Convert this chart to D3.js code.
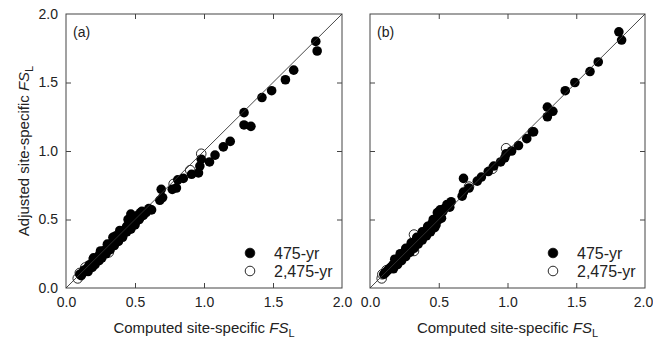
<!DOCTYPE html>
<html>
<head>
<meta charset="utf-8">
<script src="https://cdn.jsdelivr.net/npm/d3@7"></script>
<style>
  body { margin: 0; background: #fff; }
  svg { display: block; font-family: "Liberation Sans", Arial, sans-serif; }
  .axis path { display: none; }
  .axis line { stroke: #444; }
  .axis text { font-size: 14px; fill: #222; }
</style>
</head>
<body>
<div id="chart"></div>
<script>
const ticks = [0, 0.5, 1.0, 1.5, 2.0];
const panelLabels = ['(a)', '(b)'];
const seriesNames = ['475-yr', '2,475-yr'];

// panel (a): [computed, adjusted]
const aFilled = [
  [0.10, 0.10], [0.11, 0.09], [0.12, 0.11], [0.13, 0.13], [0.14, 0.12], [0.15, 0.14],
  [0.16, 0.15], [0.17, 0.17], [0.18, 0.16], [0.19, 0.18], [0.20, 0.19], [0.21, 0.21],
  [0.22, 0.20], [0.23, 0.22], [0.24, 0.24], [0.25, 0.23], [0.26, 0.25], [0.27, 0.27],
  [0.28, 0.26], [0.29, 0.28], [0.30, 0.30], [0.31, 0.29], [0.32, 0.31], [0.33, 0.32],
  [0.34, 0.34], [0.35, 0.33], [0.36, 0.38], [0.37, 0.36], [0.38, 0.37], [0.40, 0.39],
  [0.41, 0.41], [0.42, 0.40], [0.43, 0.43], [0.44, 0.45], [0.45, 0.44], [0.46, 0.47],
  [0.47, 0.46], [0.48, 0.48], [0.49, 0.52], [0.50, 0.50], [0.51, 0.49], [0.52, 0.53],
  [0.16, 0.12], [0.19, 0.15], [0.21, 0.17], [0.24, 0.20], [0.26, 0.22], [0.29, 0.25],
  [0.32, 0.28], [0.35, 0.31], [0.38, 0.34], [0.41, 0.37], [0.44, 0.41], [0.47, 0.43],
  [0.20, 0.22], [0.25, 0.27], [0.30, 0.32], [0.34, 0.37], [0.39, 0.42], [0.45, 0.50],
  [0.50, 0.46], [0.53, 0.50], [0.47, 0.54], [0.55, 0.56], [0.58, 0.55],
  [0.54, 0.52], [0.56, 0.53], [0.54, 0.55], [0.60, 0.58], [0.62, 0.57],
  [0.68, 0.64], [0.70, 0.66], [0.69, 0.72], [0.77, 0.72], [0.80, 0.73], [0.81, 0.79],
  [0.85, 0.80], [0.91, 0.83], [0.96, 0.84], [0.97, 0.89], [0.98, 0.94], [1.04, 0.92],
  [1.08, 0.97], [1.14, 1.03], [1.19, 1.07], [1.29, 1.28], [1.29, 1.19], [1.34, 1.18],
  [1.42, 1.39], [1.49, 1.44], [1.59, 1.52], [1.65, 1.59], [1.81, 1.80], [1.82, 1.73]
];
const aOpen = [
  [0.085, 0.07], [0.10, 0.11], [0.14, 0.15], [0.20, 0.21], [0.31, 0.26],
  [0.38, 0.39], [0.78, 0.76], [0.90, 0.86], [0.98, 0.98]
];

// panel (b): [computed, adjusted]
const bFilled = [
  [0.10, 0.10], [0.11, 0.11], [0.12, 0.12], [0.13, 0.13], [0.14, 0.14], [0.15, 0.15],
  [0.16, 0.16], [0.17, 0.17], [0.18, 0.18], [0.19, 0.19], [0.20, 0.20], [0.21, 0.21],
  [0.22, 0.22], [0.23, 0.23], [0.24, 0.24], [0.25, 0.26], [0.26, 0.25], [0.27, 0.28],
  [0.28, 0.27], [0.29, 0.30], [0.30, 0.29], [0.31, 0.32], [0.32, 0.31], [0.33, 0.34],
  [0.34, 0.33], [0.35, 0.36], [0.36, 0.35], [0.37, 0.38], [0.38, 0.37], [0.39, 0.40],
  [0.40, 0.39], [0.41, 0.42], [0.42, 0.41], [0.43, 0.44], [0.44, 0.43], [0.45, 0.47],
  [0.46, 0.45], [0.47, 0.48], [0.48, 0.46], [0.49, 0.55], [0.51, 0.57], [0.50, 0.50],
  [0.17, 0.14], [0.20, 0.17], [0.23, 0.20], [0.26, 0.23], [0.29, 0.26], [0.32, 0.29],
  [0.35, 0.32], [0.38, 0.35], [0.41, 0.38], [0.44, 0.41], [0.47, 0.44],
  [0.18, 0.21], [0.22, 0.25], [0.26, 0.29], [0.30, 0.33], [0.34, 0.37], [0.38, 0.41],
  [0.42, 0.45], [0.46, 0.50], [0.50, 0.53], [0.53, 0.56], [0.54, 0.58],
  [0.52, 0.51], [0.56, 0.61], [0.58, 0.59], [0.59, 0.63], [0.67, 0.67], [0.68, 0.70],
  [0.72, 0.73], [0.68, 0.80], [0.78, 0.78], [0.81, 0.81], [0.86, 0.85], [0.90, 0.89],
  [0.95, 0.92], [0.98, 0.95], [0.99, 0.98], [1.03, 1.00], [1.08, 1.04], [1.14, 1.09],
  [1.19, 1.14], [1.18, 1.14], [1.29, 1.25], [1.33, 1.29], [1.29, 1.32], [1.42, 1.44],
  [1.49, 1.50], [1.60, 1.58], [1.66, 1.65], [1.81, 1.87], [1.83, 1.81]
];
const bOpen = [
  [0.085, 0.07], [0.09, 0.10], [0.12, 0.13], [0.22, 0.23], [0.32, 0.39],
  [0.32, 0.27], [0.72, 0.74], [0.89, 0.87], [0.99, 1.02]
];

const panels = [
  { label: panelLabels[0], filled: aFilled, open: aOpen, x0: 66, x1: 342, yLabels: true },
  { label: panelLabels[1], filled: bFilled, open: bOpen, x0: 370, x1: 645, yLabels: false }
];

const W = 653, H = 341, yTop = 14, yBottom = 288, r = 4.8;

const svg = d3.select('#chart').append('svg')
  .attr('width', W)
  .attr('height', H);

panels.forEach((p, pi) => {
  const x = d3.scaleLinear().domain([0, 2]).range([p.x0, p.x1]);
  const y = d3.scaleLinear().domain([0, 2]).range([yBottom, yTop]);
  const g = svg.append('g');
  const inner = ticks.slice(1, -1);

  // inward ticks on all four sides
  const xAxisG = g.append('g').attr('class', 'axis')
    .attr('transform', `translate(0,${yBottom})`)
    .call(d3.axisBottom(x).tickValues(ticks).tickSizeInner(-5).tickSizeOuter(0)
      .tickPadding(9).tickFormat(d3.format('.1f')));
  xAxisG.selectAll('.tick line').filter((d) => d === 0 || d === 2).remove();
  if (pi === 1) {
    xAxisG.selectAll('.tick text').filter((d) => d === 2).attr('dx', -2);
  }
  g.append('g').attr('class', 'axis')
    .attr('transform', `translate(0,${yTop})`)
    .call(d3.axisTop(x).tickValues(inner).tickSizeInner(-5).tickSizeOuter(0).tickFormat(''));
  g.append('g').attr('class', 'axis')
    .attr('transform', `translate(${p.x0},0)`)
    .call(d3.axisLeft(y).tickValues(p.yLabels ? ticks : inner).tickSizeInner(-5).tickSizeOuter(0)
      .tickPadding(8).tickFormat(p.yLabels ? d3.format('.1f') : ''))
    .selectAll('.tick line').filter((d) => d === 0 || d === 2).remove();
  g.append('g').attr('class', 'axis')
    .attr('transform', `translate(${p.x1},0)`)
    .call(d3.axisRight(y).tickValues(inner).tickSizeInner(-5).tickSizeOuter(0).tickFormat(''));

  // frame
  g.append('rect')
    .attr('x', p.x0).attr('y', yTop)
    .attr('width', p.x1 - p.x0).attr('height', yBottom - yTop)
    .attr('fill', 'none').attr('stroke', '#444').attr('stroke-width', 1);

  // 2,475-yr underneath
  g.selectAll('.open').data(p.open).join('circle')
    .attr('class', 'open')
    .attr('cx', (d) => x(d[0])).attr('cy', (d) => y(d[1])).attr('r', r)
    .attr('fill', '#fff').attr('stroke', '#111').attr('stroke-width', 0.9);

  g.selectAll('.filled').data(p.filled).join('circle')
    .attr('class', 'filled')
    .attr('cx', (d) => x(d[0])).attr('cy', (d) => y(d[1])).attr('r', r)
    .attr('fill', '#000');

  // 1:1 line
  g.append('line')
    .attr('x1', x(0)).attr('y1', y(0)).attr('x2', x(2)).attr('y2', y(2))
    .attr('stroke', '#333').attr('stroke-width', 0.9);

  g.append('text')
    .attr('x', p.x0 + 7).attr('y', yTop + 23)
    .attr('font-size', 14).attr('fill', '#222')
    .text(p.label);

  // legend
  const lx = p.x1 - 92;
  [253, 271].forEach((ly, i) => {
    g.append('circle')
      .attr('cx', lx).attr('cy', ly).attr('r', r)
      .attr('fill', i === 0 ? '#000' : '#fff')
      .attr('stroke', '#111').attr('stroke-width', 0.9);
    g.append('text')
      .attr('x', lx + 24).attr('y', ly + 6)
      .attr('font-size', 16).attr('fill', '#222')
      .text(seriesNames[i]);
  });

  // x axis title
  const xt = g.append('text')
    .attr('x', (p.x0 + p.x1) / 2).attr('y', 333)
    .attr('text-anchor', 'middle')
    .attr('font-size', 15).attr('fill', '#222');
  xt.append('tspan').text('Computed site-specific ');
  xt.append('tspan').attr('font-style', 'italic').text('FS');
  xt.append('tspan').attr('font-size', 11).attr('dy', 4).text('L');
});

// y axis title
const yt = svg.append('text')
  .attr('transform', `translate(29,${(yTop + yBottom) / 2}) rotate(-90)`)
  .attr('text-anchor', 'middle')
  .attr('font-size', 15).attr('fill', '#222');
yt.append('tspan').text('Adjusted site-specific ');
yt.append('tspan').attr('font-style', 'italic').text('FS');
yt.append('tspan').attr('font-size', 11).attr('dy', 4).text('L');
</script>
</body>
</html>
